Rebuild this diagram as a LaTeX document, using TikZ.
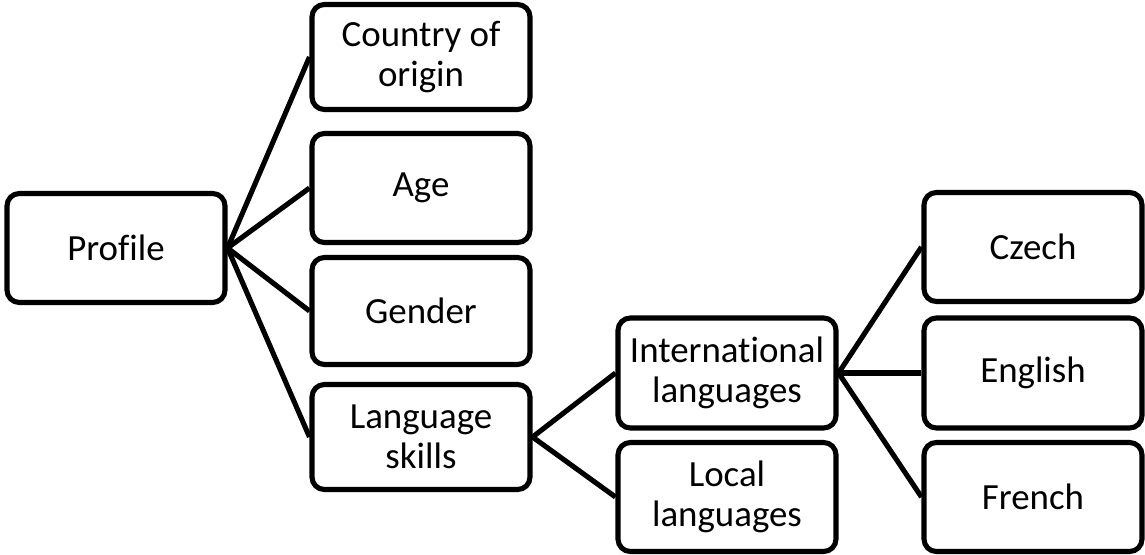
\documentclass[tikz,border=0pt]{standalone}
\usepackage{fontspec}
\setmainfont[Ligatures=NoCommon]{Carlito}
\usetikzlibrary{positioning}
\definecolor{boxline}{HTML}{000000}

\begin{document}
\begin{tikzpicture}[x=0.02cm,y=-0.02cm,font=\fontsize{21}{23}\selectfont,
  box/.style={draw=boxline,line width=2.9pt,rounded corners=7pt,align=center,
    minimum width=4.36cm,minimum height=2.14cm,inner sep=2pt},
  link/.style={draw=boxline,line width=2.9pt}]
\useasboundingbox (0,0) rectangle (1145,554);
\node[box,minimum height=2.18cm] (profile) at (116,248) {Profile};
\node[box,minimum height=2.1cm] (origin) at (421,57) {Country of\\origin};
\node[box,minimum height=2.18cm] (age) at (421,188) {Age};
\node[box] (gender) at (421,311) {Gender};
\node[box,minimum height=2.1cm] (langskills) at (421,437) {Language\\skills};
\node[box,minimum height=2.2cm] (intl) at (727,373) {International\\languages};
\node[box,minimum height=2.18cm] (local) at (727,497) {Local\\languages};
\node[box,minimum height=2.18cm] (czech) at (1033,247) {Czech};
\node[box,minimum height=2.2cm] (english) at (1033,373) {English};
\node[box,minimum height=2.18cm] (french) at (1033,497) {French};
\draw[link] (profile.east) -- (origin.west);
\draw[link] (profile.east) -- (age.west);
\draw[link] (profile.east) -- (gender.west);
\draw[link] (profile.east) -- (langskills.west);
\draw[link] (langskills.east) -- (intl.west);
\draw[link] (langskills.east) -- (local.west);
\draw[link] (intl.east) -- (czech.west);
\draw[link] (intl.east) -- (english.west);
\draw[link] (intl.east) -- (french.west);
\end{tikzpicture}
\end{document}
